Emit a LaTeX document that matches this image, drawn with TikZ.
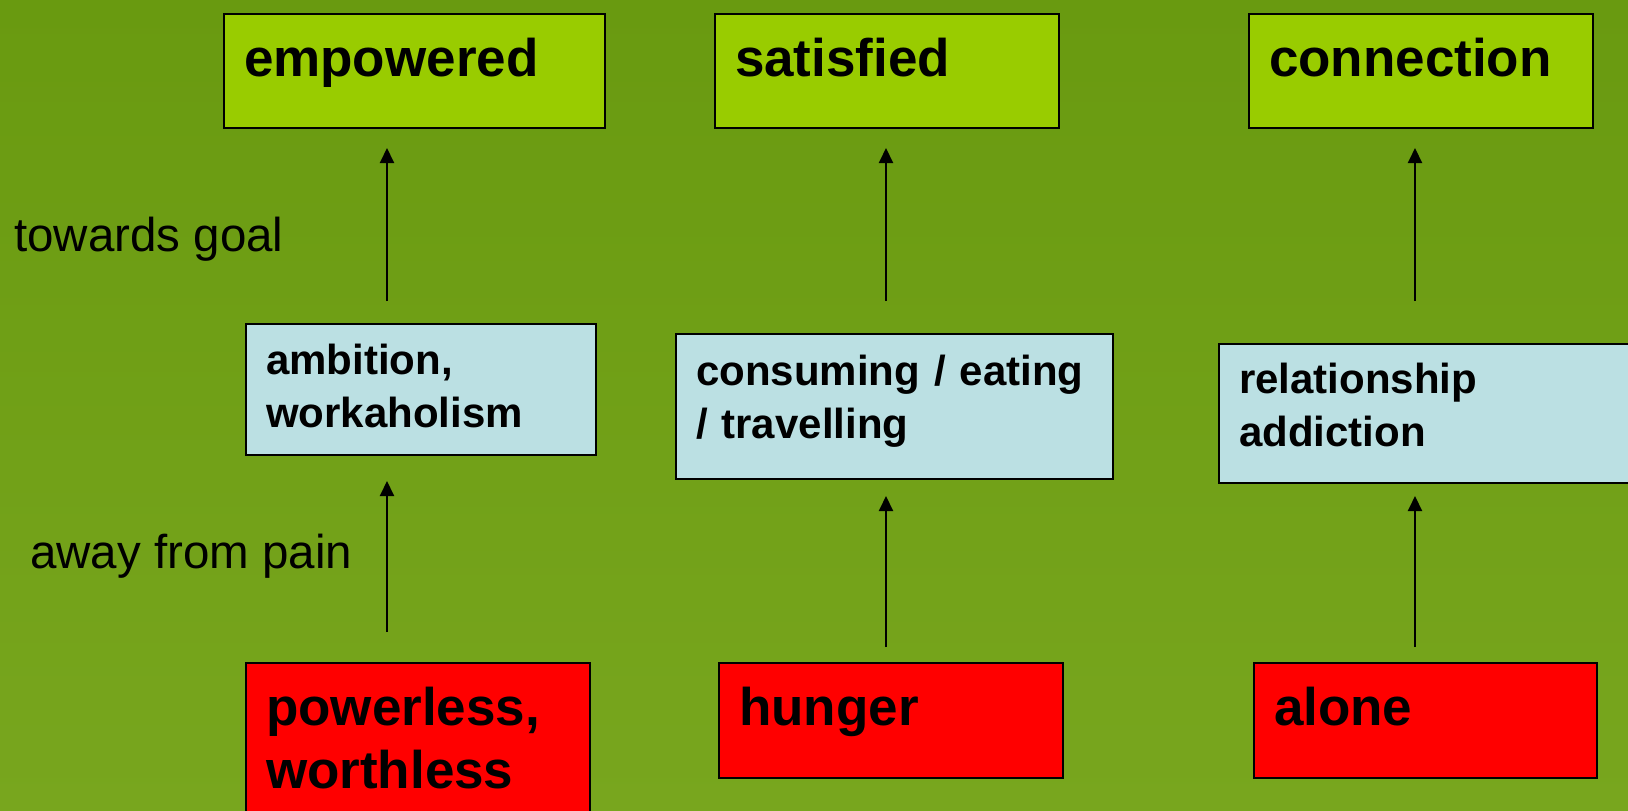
\documentclass[tikz,border=0pt]{standalone}
\usepackage{fontspec}
\setmainfont{Liberation Sans}
\usetikzlibrary{arrows.meta}

\definecolor{bgtop}{RGB}{105,154,16}
\definecolor{bgbottom}{RGB}{120,166,30}
\definecolor{goalfill}{RGB}{153,204,0}
\definecolor{midfill}{RGB}{187,224,227}
\definecolor{painfill}{RGB}{255,0,0}

\begin{document}
\begin{tikzpicture}[x=1pt, y=-1pt,
  card/.style={draw=black, line width=2pt, anchor=north west,
    inner xsep=20pt, inner ysep=0pt, align=left, font=\bfseries},
  goal/.style={card, fill=goalfill, font=\bfseries\fontsize{53}{63}\selectfont,
    text height=62pt, text depth=52pt},
  pain/.style={card, fill=painfill, font=\bfseries\fontsize{53}{63}\selectfont,
    text height=62pt},
  habit/.style={card, fill=midfill, font=\bfseries\fontsize{42}{53}\selectfont},
  side/.style={anchor=base west, inner sep=0pt, font=\fontsize{47.5}{56}\selectfont},
  flow/.style={line width=2pt, -{Triangle[length=15pt, width=14pt]}}]

  % canvas and background
  \useasboundingbox (0,0) rectangle (1628,811);
  \clip (0,0) rectangle (1628,811);
  \shade[top color=bgtop, bottom color=bgbottom] (0,0) rectangle (1628,811);

  % goals
  \node[goal, text width=341pt] (emp) at (223,13) {empowered};
  \node[goal, text width=304pt] (sat) at (714,13) {satisfied};
  \node[goal, text width=304pt] (con) at (1248,13) {connection};

  % behaviours
  \node[habit, text width=310pt, text height=50pt, text depth=81pt] (amb) at (245,323)
    {ambition,\\workaholism};
  \node[habit, text width=397pt, text height=51pt, text depth=94pt] (cons) at (675,333)
    {consuming / eating\\/ travelling};
  \node[habit, text width=410pt, text height=49pt, text depth=90pt] (rel) at (1218,343)
    {relationship\\addiction};

  % pains
  \node[pain, text width=304pt, text depth=138pt] (pow) at (245,662)
    {powerless,\\worthless};
  \node[pain, text width=304pt, text depth=53pt] (hun) at (718,662) {hunger};
  \node[pain, text width=303pt, text depth=53pt] (alo) at (1253,662) {alone};

  % side labels
  \node[side] (tg) at (14,251) {towards goal};
  \node[side] (afp) at (30,568) {away from pain};

  % arrow end points
  \coordinate (a1lo) at (387,632);  \coordinate (a1mid) at (387,481);
  \coordinate (a1up) at (387,301);  \coordinate (a1top) at (387,148);
  \coordinate (a2lo) at (886,647);  \coordinate (a2mid) at (886,496);
  \coordinate (a2up) at (886,301);  \coordinate (a2top) at (886,148);
  \coordinate (a3lo) at (1415,647); \coordinate (a3mid) at (1415,496);
  \coordinate (a3up) at (1415,301); \coordinate (a3top) at (1415,148);

  % arrows
  \draw[flow] (a1lo) -- (a1mid);
  \draw[flow] (a1up) -- (a1top);
  \draw[flow] (a2lo) -- (a2mid);
  \draw[flow] (a2up) -- (a2top);
  \draw[flow] (a3lo) -- (a3mid);
  \draw[flow] (a3up) -- (a3top);
\end{tikzpicture}
\end{document}
